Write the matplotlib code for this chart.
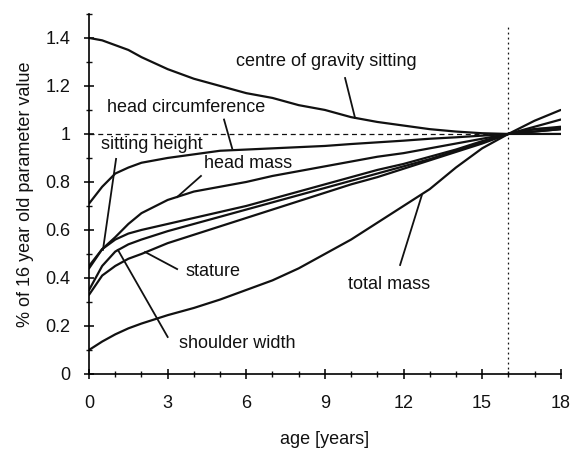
#Recreating the chart of body parameters relative to the 16 year old value
import matplotlib
matplotlib.use('Agg')
import matplotlib.pyplot as plt
from matplotlib.ticker import MultipleLocator
import numpy as np

age = [0, 0.5, 1, 1.5, 2, 3, 4, 5, 6, 7, 8, 9, 10, 11, 12, 13, 14, 15, 16, 17, 18]

#Values as a fraction of the 16 year old value
cog_sitting = [1.40, 1.39, 1.37, 1.35, 1.32, 1.27, 1.23, 1.20, 1.17, 1.15, 1.12, 1.10, 1.07, 1.05, 1.035, 1.02, 1.01, 1.003, 1.0, 1.0, 1.0]
head_circ = [0.71, 0.78, 0.835, 0.86, 0.88, 0.90, 0.915, 0.93, 0.935, 0.94, 0.945, 0.95, 0.958, 0.965, 0.972, 0.98, 0.986, 0.993, 1.0, 1.01, 1.02]
head_mass = [0.45, 0.52, 0.57, 0.625, 0.67, 0.725, 0.76, 0.78, 0.80, 0.825, 0.845, 0.865, 0.885, 0.905, 0.92, 0.94, 0.96, 0.98, 1.0, 1.01, 1.02]
sitting_height = [0.44, 0.52, 0.56, 0.585, 0.60, 0.625, 0.65, 0.675, 0.70, 0.73, 0.76, 0.79, 0.82, 0.85, 0.875, 0.905, 0.935, 0.97, 1.0, 1.02, 1.03]
shoulder_width = [0.35, 0.45, 0.51, 0.54, 0.56, 0.595, 0.625, 0.655, 0.685, 0.715, 0.745, 0.775, 0.805, 0.835, 0.865, 0.895, 0.93, 0.965, 1.0, 1.03, 1.06]
stature = [0.33, 0.41, 0.45, 0.48, 0.50, 0.545, 0.58, 0.615, 0.65, 0.685, 0.72, 0.755, 0.79, 0.82, 0.855, 0.89, 0.925, 0.96, 1.0, 1.02, 1.025]
total_mass = [0.10, 0.135, 0.165, 0.19, 0.21, 0.245, 0.275, 0.31, 0.35, 0.39, 0.44, 0.50, 0.56, 0.63, 0.70, 0.77, 0.86, 0.94, 1.0, 1.055, 1.10]

#Labels: text, text position, pointer start, pointer end (all in data units)
labels = ['centre of gravity sitting', 'head circumference', 'sitting height', 'head mass',
          'stature', 'shoulder width', 'total mass']
label_xy = [(9.05, 1.30), (3.72, 1.11), (2.4, 0.955), (6.05, 0.878), (4.72, 0.425), (5.67, 0.125), (11.45, 0.372)]
pointer_from = [(9.77, 1.233), (5.15, 1.06), (1.03, 0.896), (4.27, 0.825), (3.36, 0.437), (3.0, 0.154), (11.87, 0.454)]
pointer_to = [(10.15, 1.067), (5.46, 0.94), (0.53, 0.517), (3.36, 0.737), (2.14, 0.508), (1.1, 0.517), (12.7, 0.745)]

plt.rcParams['font.family'] = ['Liberation Sans', 'DejaVu Sans']
fs = 13

fig = plt.figure(figsize=(5.71, 4.5), dpi=100)
ax = fig.add_axes([0.156, 0.169, 0.826, 0.80])

ink = '#111111'
for series in [cog_sitting, head_circ, head_mass, sitting_height, shoulder_width, stature, total_mass]:
    ax.plot(age, series, color=ink, lw=1.6, solid_capstyle='round')

#Reference lines: 1 = value at 16 years
ax.plot([0, 16], [1, 1], color=ink, lw=0.9, ls=(0, (4, 3)))
ax.plot([16, 16], [0, 1.46], color=ink, lw=0.9, ls=(0, (1.5, 2.5)))

for text, xy, p0, p1 in zip(labels, label_xy, pointer_from, pointer_to):
    ax.text(xy[0], xy[1], text, ha='center', va='center', fontsize=fs, color=ink)
    ax.plot([p0[0], p1[0]], [p0[1], p1[1]], color=ink, lw=1.3)

ax.set_xlim(0, 18)
ax.set_ylim(0, 1.5)
ax.xaxis.set_major_locator(MultipleLocator(3))
ax.xaxis.set_minor_locator(MultipleLocator(1))
ax.yaxis.set_major_locator(MultipleLocator(0.2))
ax.yaxis.set_minor_locator(MultipleLocator(0.1))
ax.set_yticks(np.arange(0, 1.41, 0.2))
ax.set_yticklabels(['0', '0.2', '0.4', '0.6', '0.8', '1', '1.2', '1.4'])

ax.spines['top'].set_visible(False)
ax.spines['right'].set_visible(False)
ax.spines['left'].set_linewidth(1.2)
ax.spines['bottom'].set_linewidth(1.2)
ax.tick_params(which='major', direction='inout', length=7, width=1.2, labelsize=fs, colors=ink)
ax.tick_params(which='minor', direction='inout', length=4, width=1.0, colors=ink)
ax.tick_params(axis='y', pad=10)
ax.tick_params(axis='x', pad=12)

ax.set_xlabel('age [years]', fontsize=fs, labelpad=13, color=ink)
ax.set_ylabel('% of 16 year old parameter value', fontsize=fs, labelpad=8, color=ink)

fig.savefig('out.png', dpi=100)
